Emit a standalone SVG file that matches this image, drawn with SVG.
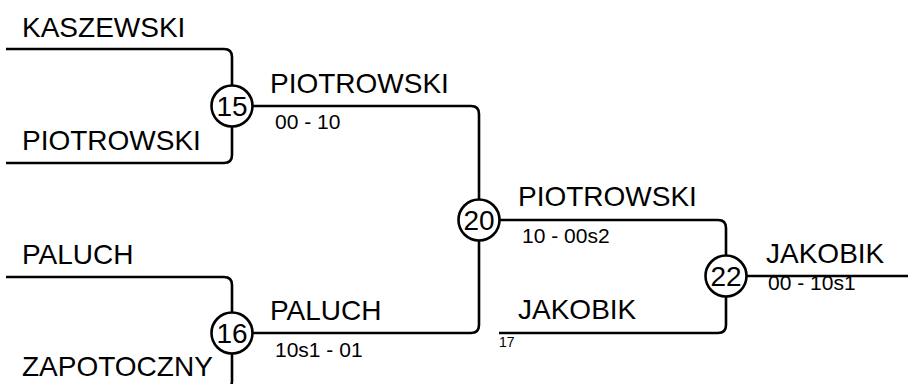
<svg xmlns="http://www.w3.org/2000/svg" width="908" height="384" viewBox="0 0 908 384">
<style>
.ln{fill:none;stroke:#000;stroke-width:2.6}
.nd circle{fill:#fff;stroke:#000;stroke-width:2.6}
text{font-family:"Liberation Sans",Arial,sans-serif;fill:#000}
.nm{font-size:28px}
.sc{font-size:21px}
.sm{font-size:14px}
.num{font-size:28px;text-anchor:middle}
</style>
<rect width="908" height="384" fill="#fff"/>
<g id="connectors">
<path class="ln" d="M6,49 H224 Q232,49 232,57 V155 Q232,163 224,163 H6"/>
<path class="ln" d="M6,277 H224 Q232,277 232,285 V381 Q232,389 224,389 H6"/>
<path class="ln" d="M232,106 H471 Q479,106 479,114 V325 Q479,333 471,333 H232"/>
<path class="ln" d="M479,220 H718 Q726,220 726,228 V325 Q726,333 718,333 H499"/>
<path class="ln" d="M726,276 H908"/>
</g>
<g id="n15" class="nd"><circle cx="232" cy="106" r="20.5"/><text class="num" x="232" y="116">15</text></g>
<g id="n16" class="nd"><circle cx="232" cy="333" r="20.5"/><text class="num" x="232" y="343">16</text></g>
<g id="n20" class="nd"><circle cx="479" cy="220" r="20.5"/><text class="num" x="479" y="230">20</text></g>
<g id="n22" class="nd"><circle cx="726" cy="276" r="20.5"/><text class="num" x="726" y="286">22</text></g>
<g id="labels">
<text class="nm" x="22" y="37">KASZEWSKI</text>
<text class="nm" x="22" y="150">PIOTROWSKI</text>
<text class="nm" x="22" y="264">PALUCH</text>
<text class="nm" x="22" y="376">ZAPOTOCZNY</text>
<text class="nm" x="270" y="93">PIOTROWSKI</text>
<text class="sc" x="275" y="129">00 - 10</text>
<text class="nm" x="270" y="320">PALUCH</text>
<text class="sc" x="275" y="357">10s1 - 01</text>
<text class="nm" x="518" y="206">PIOTROWSKI</text>
<text class="sc" x="522" y="243">10 - 00s2</text>
<text class="nm" x="518" y="319">JAKOBIK</text>
<text class="sm" x="499" y="347">17</text>
<text class="nm" x="766" y="263">JAKOBIK</text>
<text class="sc" x="768" y="290">00 - 10s1</text>
</g>
</svg>
